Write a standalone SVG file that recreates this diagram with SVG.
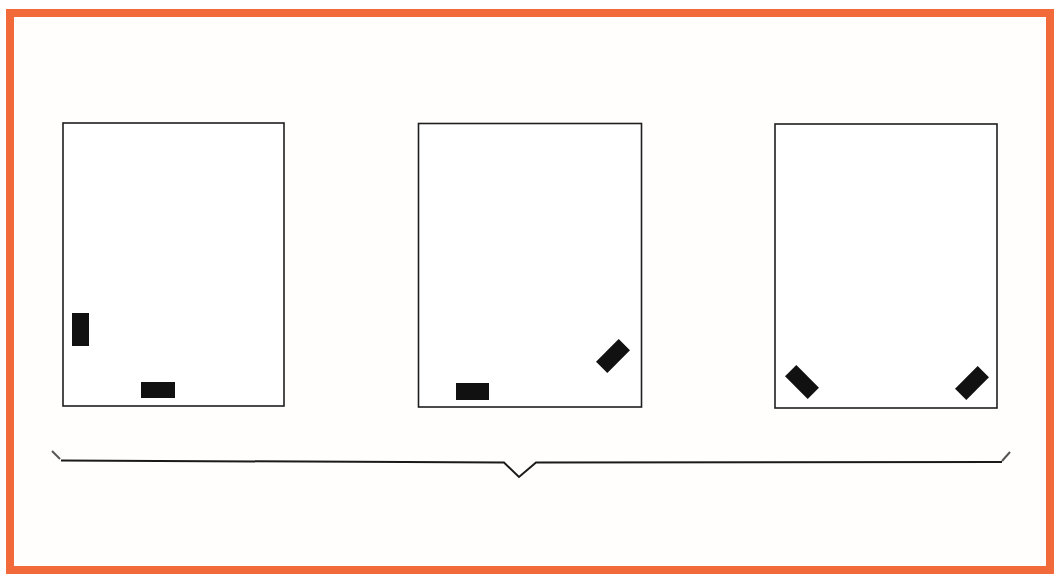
<svg xmlns="http://www.w3.org/2000/svg" width="1055" height="578" viewBox="0 0 1055 578">
<style>
.frame{fill:#fffefc;stroke:#f26a3a;stroke-width:8}
.panel{fill:#fff;stroke:#1e1e1e;stroke-width:1.6}
.blk{fill:#111}
.brace{fill:none;stroke:#1a1a1a;stroke-width:2;stroke-linejoin:miter}
.tick{stroke:#555;stroke-width:2}
</style>
<rect width="1055" height="578" fill="#fff"/>
<rect class="frame" x="10" y="13" width="1040" height="557"/>
<g id="panel1">
<rect class="panel" x="63" y="123" width="221" height="283"/>
<rect class="blk" x="72" y="313" width="17" height="33"/>
<rect class="blk" x="141" y="382" width="34" height="16"/>
</g>
<g id="panel2">
<rect class="panel" x="418.5" y="123.5" width="223" height="283.5"/>
<rect class="blk" x="456" y="383" width="33" height="17"/>
<rect class="blk" x="-16" y="-8" width="32" height="16" transform="translate(613,356) rotate(-45)"/>
</g>
<g id="panel3">
<rect class="panel" x="775" y="124" width="222" height="284"/>
<rect class="blk" x="-16" y="-8" width="32" height="16" transform="translate(802,382) rotate(45)"/>
<rect class="blk" x="-16" y="-8" width="32" height="16" transform="translate(972,383) rotate(-45)"/>
</g>
<g id="connectors">
<path class="brace" d="M61,460.5 L504,462.5 L519,477 L536,462.5 L1002,462"/>
<line class="tick" x1="52" y1="451" x2="60" y2="459"/>
<line class="tick" x1="1002" y1="461" x2="1010" y2="452"/>
</g>
</svg>
